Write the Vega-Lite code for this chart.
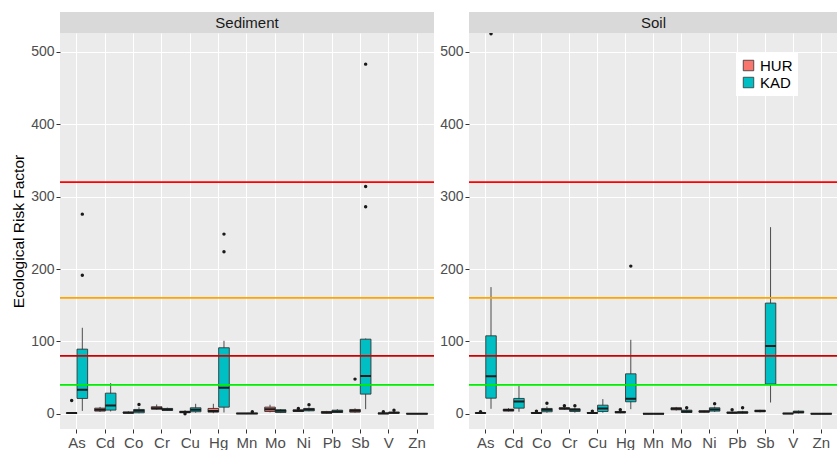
{
  "$schema": "https://vega.github.io/schema/vega-lite/v6.json",
  "padding": {"left": 11, "top": 12, "right": 0, "bottom": 0},
  "config": {
    "font": "Liberation Sans",
    "view": {"fill": "#EBEBEB", "stroke": null},
    "axis": {"domain": false, "labelFont": "Liberation Sans", "titleFont": "Liberation Sans"}
  },
  "datasets": {
    "box": [
      {"medium": "Sediment", "element": "As", "group": "HUR", "lo": 0.2, "q1": 0.6, "med": 1.0, "q3": 1.4, "hi": 2.0},
      {"medium": "Sediment", "element": "As", "group": "KAD", "lo": 4, "q1": 21.2, "med": 33.1, "q3": 89.3, "hi": 118.8},
      {"medium": "Sediment", "element": "Cd", "group": "HUR", "lo": 2.5, "q1": 3.7, "med": 5.5, "q3": 7.8, "hi": 9.5},
      {"medium": "Sediment", "element": "Cd", "group": "KAD", "lo": 3.2, "q1": 5.1, "med": 11.5, "q3": 28.5, "hi": 42.4},
      {"medium": "Sediment", "element": "Co", "group": "HUR", "lo": 0.5, "q1": 1.0, "med": 1.5, "q3": 2.5, "hi": 3.5},
      {"medium": "Sediment", "element": "Co", "group": "KAD", "lo": 0.8, "q1": 1.4, "med": 4.1, "q3": 6.0, "hi": 9.0},
      {"medium": "Sediment", "element": "Cr", "group": "HUR", "lo": 5.5, "q1": 6.4, "med": 7.8, "q3": 9.7, "hi": 12.9},
      {"medium": "Sediment", "element": "Cr", "group": "KAD", "lo": 4.0, "q1": 4.6, "med": 6.0, "q3": 7.4, "hi": 8.5},
      {"medium": "Sediment", "element": "Cu", "group": "HUR", "lo": 1.0, "q1": 1.5, "med": 2.5, "q3": 3.5, "hi": 5.0},
      {"medium": "Sediment", "element": "Cu", "group": "KAD", "lo": 1.5, "q1": 2.8, "med": 5.5, "q3": 8.3, "hi": 13.8},
      {"medium": "Sediment", "element": "Hg", "group": "HUR", "lo": 0.8, "q1": 2.3, "med": 3.7, "q3": 7.4, "hi": 13.8},
      {"medium": "Sediment", "element": "Hg", "group": "KAD", "lo": 1.8, "q1": 9.2, "med": 35.9, "q3": 91.2, "hi": 100.8},
      {"medium": "Sediment", "element": "Mn", "group": "HUR", "lo": 0, "q1": 0.2, "med": 0.4, "q3": 0.7, "hi": 1.0},
      {"medium": "Sediment", "element": "Mn", "group": "KAD", "lo": 0, "q1": 0.2, "med": 0.5, "q3": 0.8, "hi": 1.2},
      {"medium": "Sediment", "element": "Mo", "group": "HUR", "lo": 2, "q1": 3.2, "med": 6.4, "q3": 9.2, "hi": 12.5},
      {"medium": "Sediment", "element": "Mo", "group": "KAD", "lo": 1, "q1": 1.8, "med": 4.1, "q3": 5.5, "hi": 6.5},
      {"medium": "Sediment", "element": "Ni", "group": "HUR", "lo": 2.5, "q1": 3.2, "med": 4.1, "q3": 5.5, "hi": 6.0},
      {"medium": "Sediment", "element": "Ni", "group": "KAD", "lo": 3.5, "q1": 4.1, "med": 6.0, "q3": 7.4, "hi": 9.0},
      {"medium": "Sediment", "element": "Pb", "group": "HUR", "lo": 0.5, "q1": 0.9, "med": 1.8, "q3": 3.2, "hi": 4.0},
      {"medium": "Sediment", "element": "Pb", "group": "KAD", "lo": 1.2, "q1": 1.8, "med": 3.2, "q3": 5.0, "hi": 6.5},
      {"medium": "Sediment", "element": "Sb", "group": "HUR", "lo": 1.5, "q1": 2.3, "med": 4.1, "q3": 6.0, "hi": 7.5},
      {"medium": "Sediment", "element": "Sb", "group": "KAD", "lo": 6.4, "q1": 27.2, "med": 52.1, "q3": 103.1, "hi": 104},
      {"medium": "Sediment", "element": "V", "group": "HUR", "lo": 0, "q1": 0.2, "med": 0.5, "q3": 1.2, "hi": 1.8},
      {"medium": "Sediment", "element": "V", "group": "KAD", "lo": 0.3, "q1": 0.8, "med": 1.5, "q3": 2.2, "hi": 3.0},
      {"medium": "Sediment", "element": "Zn", "group": "HUR", "lo": 0, "q1": 0.1, "med": 0.2, "q3": 0.3, "hi": 0.5},
      {"medium": "Sediment", "element": "Zn", "group": "KAD", "lo": 0, "q1": 0.1, "med": 0.2, "q3": 0.3, "hi": 0.5},
      {"medium": "Soil", "element": "As", "group": "HUR", "lo": 0.3, "q1": 0.7, "med": 1.0, "q3": 1.5, "hi": 2.0},
      {"medium": "Soil", "element": "As", "group": "KAD", "lo": 6.9, "q1": 21.6, "med": 52.0, "q3": 107.7, "hi": 175},
      {"medium": "Soil", "element": "Cd", "group": "HUR", "lo": 3.2, "q1": 3.7, "med": 5.1, "q3": 6.4, "hi": 7.8},
      {"medium": "Soil", "element": "Cd", "group": "KAD", "lo": 2.8, "q1": 7.8, "med": 17.0, "q3": 21.2, "hi": 38.7},
      {"medium": "Soil", "element": "Co", "group": "HUR", "lo": 0.3, "q1": 0.8, "med": 1.2, "q3": 1.8, "hi": 2.5},
      {"medium": "Soil", "element": "Co", "group": "KAD", "lo": 1.5, "q1": 2.8, "med": 5.5, "q3": 7.4, "hi": 10},
      {"medium": "Soil", "element": "Cr", "group": "HUR", "lo": 5.5, "q1": 6.4, "med": 7.4, "q3": 8.3, "hi": 9.5},
      {"medium": "Soil", "element": "Cr", "group": "KAD", "lo": 1.5, "q1": 3.2, "med": 5.5, "q3": 6.9, "hi": 8.5},
      {"medium": "Soil", "element": "Cu", "group": "HUR", "lo": 0.3, "q1": 0.8, "med": 1.2, "q3": 1.8, "hi": 2.5},
      {"medium": "Soil", "element": "Cu", "group": "KAD", "lo": 1.5, "q1": 3.2, "med": 7.4, "q3": 11.9, "hi": 20.3},
      {"medium": "Soil", "element": "Hg", "group": "HUR", "lo": 0.8, "q1": 1.5, "med": 2.3, "q3": 3.2, "hi": 4.0},
      {"medium": "Soil", "element": "Hg", "group": "KAD", "lo": 6.4, "q1": 16.6, "med": 20.7, "q3": 55.2, "hi": 102.2},
      {"medium": "Soil", "element": "Mn", "group": "HUR", "lo": -0.5, "q1": -0.2, "med": 0, "q3": 0.3, "hi": 0.5},
      {"medium": "Soil", "element": "Mn", "group": "KAD", "lo": -0.5, "q1": -0.2, "med": 0, "q3": 0.3, "hi": 0.5},
      {"medium": "Soil", "element": "Mo", "group": "HUR", "lo": 4.5, "q1": 5.5, "med": 6.9, "q3": 8.3, "hi": 9.5},
      {"medium": "Soil", "element": "Mo", "group": "KAD", "lo": 1.0, "q1": 1.8, "med": 3.2, "q3": 5.0, "hi": 6.0},
      {"medium": "Soil", "element": "Ni", "group": "HUR", "lo": 1.8, "q1": 2.3, "med": 3.2, "q3": 4.1, "hi": 4.5},
      {"medium": "Soil", "element": "Ni", "group": "KAD", "lo": 2.5, "q1": 3.7, "med": 6.0, "q3": 8.3, "hi": 10},
      {"medium": "Soil", "element": "Pb", "group": "HUR", "lo": 0.5, "q1": 0.9, "med": 1.5, "q3": 2.3, "hi": 3.0},
      {"medium": "Soil", "element": "Pb", "group": "KAD", "lo": 0.5, "q1": 0.9, "med": 1.8, "q3": 2.8, "hi": 4.0},
      {"medium": "Soil", "element": "Sb", "group": "HUR", "lo": 2.0, "q1": 2.8, "med": 3.7, "q3": 5.0, "hi": 5.5},
      {"medium": "Soil", "element": "Sb", "group": "KAD", "lo": 15.6, "q1": 41, "med": 93.5, "q3": 152.9, "hi": 257.8},
      {"medium": "Soil", "element": "V", "group": "HUR", "lo": -0.3, "q1": 0, "med": 0.3, "q3": 0.6, "hi": 1.0},
      {"medium": "Soil", "element": "V", "group": "KAD", "lo": 0.5, "q1": 1.4, "med": 2.3, "q3": 3.7, "hi": 4.5},
      {"medium": "Soil", "element": "Zn", "group": "HUR", "lo": -0.3, "q1": -0.1, "med": 0, "q3": 0.2, "hi": 0.4},
      {"medium": "Soil", "element": "Zn", "group": "KAD", "lo": -0.3, "q1": -0.1, "med": 0, "q3": 0.2, "hi": 0.4}
    ],
    "out": [
      {"medium": "Sediment", "element": "As", "group": "HUR", "v": 18.4},
      {"medium": "Sediment", "element": "As", "group": "KAD", "v": 191.5},
      {"medium": "Sediment", "element": "As", "group": "KAD", "v": 275.8},
      {"medium": "Sediment", "element": "Co", "group": "KAD", "v": 12.9},
      {"medium": "Sediment", "element": "Cu", "group": "HUR", "v": 0},
      {"medium": "Sediment", "element": "Hg", "group": "KAD", "v": 223.8},
      {"medium": "Sediment", "element": "Hg", "group": "KAD", "v": 248.2},
      {"medium": "Sediment", "element": "Mn", "group": "KAD", "v": 3},
      {"medium": "Sediment", "element": "Ni", "group": "HUR", "v": 7.4},
      {"medium": "Sediment", "element": "Ni", "group": "KAD", "v": 12.5},
      {"medium": "Sediment", "element": "Sb", "group": "HUR", "v": 47.9},
      {"medium": "Sediment", "element": "Sb", "group": "KAD", "v": 285.9},
      {"medium": "Sediment", "element": "Sb", "group": "KAD", "v": 314},
      {"medium": "Sediment", "element": "Sb", "group": "KAD", "v": 483},
      {"medium": "Sediment", "element": "V", "group": "HUR", "v": 2.8},
      {"medium": "Sediment", "element": "V", "group": "KAD", "v": 5},
      {"medium": "Soil", "element": "As", "group": "HUR", "v": 3},
      {"medium": "Soil", "element": "As", "group": "KAD", "v": 525},
      {"medium": "Soil", "element": "Co", "group": "HUR", "v": 3.7},
      {"medium": "Soil", "element": "Co", "group": "KAD", "v": 14.7},
      {"medium": "Soil", "element": "Cr", "group": "HUR", "v": 11},
      {"medium": "Soil", "element": "Cr", "group": "KAD", "v": 11.1},
      {"medium": "Soil", "element": "Cu", "group": "HUR", "v": 3.7},
      {"medium": "Soil", "element": "Hg", "group": "HUR", "v": 5.5},
      {"medium": "Soil", "element": "Hg", "group": "KAD", "v": 204},
      {"medium": "Soil", "element": "Mo", "group": "KAD", "v": 8.3},
      {"medium": "Soil", "element": "Ni", "group": "KAD", "v": 13.8},
      {"medium": "Soil", "element": "Pb", "group": "HUR", "v": 5.5},
      {"medium": "Soil", "element": "Pb", "group": "KAD", "v": 8.3}
    ],
    "thr": [
      {"level": "low", "v": 40},
      {"level": "moderate", "v": 80},
      {"level": "considerable", "v": 160},
      {"level": "high", "v": 320}
    ]
  },
  "columns": 2,
  "spacing": {"row": 0, "column": 35},
  "bounds": "flush",
  "resolve": {
    "scale": {"x": "independent", "y": "independent", "fill": "independent", "stroke": "independent", "xOffset": "independent"},
    "legend": {"fill": "independent", "stroke": "independent"}
  },
  "concat": [
    {
      "width": 374, "height": 21,
      "view": {"fill": "#D9D9D9", "stroke": null},
      "data": {"values": [{"panel": "Sediment"}]},
      "mark": {"type": "text", "fontSize": 15, "color": "#1a1a1a", "font": "Liberation Sans"},
      "encoding": {"text": {"field": "panel"}}
    },
    {
      "width": 369, "height": 21,
      "view": {"fill": "#D9D9D9", "stroke": null},
      "data": {"values": [{"panel": "Soil"}]},
      "mark": {"type": "text", "fontSize": 15, "color": "#1a1a1a", "font": "Liberation Sans"},
      "encoding": {"text": {"field": "panel"}}
    },
    {
      "width": 374, "height": 396,
      "encoding": {
        "x": {"field": "element", "type": "nominal", "sort": ["As","Cd","Co","Cr","Cu","Hg","Mn","Mo","Ni","Pb","Sb","V","Zn"],
          "scale": {"domain": ["As","Cd","Co","Cr","Cu","Hg","Mn","Mo","Ni","Pb","Sb","V","Zn"], "paddingInner": 0, "paddingOuter": 0.1},
          "axis": {"title": null, "bandPosition": 0.5, "grid": true, "gridColor": "white", "gridWidth": 1, "domain": false, "ticks": true, "tickColor": "#333333", "tickSize": 4, "labelAngle": 0, "labelFontSize": 15, "labelColor": "#4D4D4D", "labelPadding": 2}},
        "xOffset": {"field": "group", "type": "nominal", "scale": {"domain": ["HUR","KAD"], "paddingInner": 0, "paddingOuter": 0.333}}
      },
      "layer": [
        {
          "data": {"name": "box"},
          "transform": [{"filter": "datum.medium === 'Sediment'"}],
          "mark": {"type": "rule", "color": "#4D4D4D", "strokeWidth": 1},
          "encoding": {
            "y": {"field": "lo", "type": "quantitative", "title": "Ecological Risk Factor",
              "scale": {"domain": [-21, 526], "nice": false, "zero": false},
              "axis": {"values": [0,50,100,150,200,250,300,350,400,450,500],
                "labelExpr": "datum.value % 100 === 0 ? datum.label : ''",
                "grid": true, "gridColor": "white",
                "gridWidth": {"condition": {"test": "datum.value % 100 === 0", "value": 1.1}, "value": 0.5},
                "tickOpacity": {"condition": {"test": "datum.value % 100 === 0", "value": 1}, "value": 0},
                "tickColor": "#333333", "tickSize": 4, "domain": false,
                "labelFontSize": 14, "labelColor": "#4D4D4D", "labelPadding": 2,
                "titleFontSize": 15.5, "titleFontWeight": "normal", "titleColor": "black", "titlePadding": 4}},
            "y2": {"field": "hi"}
          }
        },
        {
          "data": {"name": "box"},
          "transform": [{"filter": "datum.medium === 'Sediment'"}],
          "mark": {"type": "bar", "stroke": "#333333", "strokeWidth": 0.9},
          "encoding": {
            "y": {"field": "q1", "type": "quantitative", "title": "Ecological Risk Factor"},
            "y2": {"field": "q3"},
            "fill": {"field": "group", "type": "nominal", "scale": {"domain": ["HUR","KAD"], "range": ["#F8766D","#00BFC4"]}, "legend": null}
          }
        },
        {
          "data": {"name": "box"},
          "transform": [{"filter": "datum.medium === 'Sediment'"}],
          "mark": {"type": "bar", "fillOpacity": 0, "stroke": "#1A1A1A", "strokeWidth": 2},
          "encoding": {
            "y": {"field": "med", "type": "quantitative", "title": "Ecological Risk Factor"},
            "y2": {"field": "med"}
          }
        },
        {
          "data": {"name": "out"},
          "transform": [{"filter": "datum.medium === 'Sediment'"}],
          "mark": {"type": "circle", "color": "#1A1A1A", "size": 12, "opacity": 1, "clip": true},
          "encoding": {
            "y": {"field": "v", "type": "quantitative", "title": "Ecological Risk Factor"}
          }
        },
        {
          "data": {"name": "thr"},
          "mark": {"type": "rule", "strokeWidth": 1.8},
          "encoding": {
            "x": null, "xOffset": null,
            "y": {"field": "v", "type": "quantitative", "title": "Ecological Risk Factor"},
            "stroke": {"field": "level", "type": "nominal", "scale": {"domain": ["low","moderate","considerable","high"], "range": ["#00EE00","#CD0000","#FFA500","#FF0000"]}, "legend": null}
          }
        }
      ]
    },
    {
      "width": 369, "height": 396,
      "encoding": {
        "x": {"field": "element", "type": "nominal", "sort": ["As","Cd","Co","Cr","Cu","Hg","Mn","Mo","Ni","Pb","Sb","V","Zn"],
          "scale": {"domain": ["As","Cd","Co","Cr","Cu","Hg","Mn","Mo","Ni","Pb","Sb","V","Zn"], "paddingInner": 0, "paddingOuter": 0.1},
          "axis": {"title": null, "bandPosition": 0.5, "grid": true, "gridColor": "white", "gridWidth": 1, "domain": false, "ticks": true, "tickColor": "#333333", "tickSize": 4, "labelAngle": 0, "labelFontSize": 15, "labelColor": "#4D4D4D", "labelPadding": 2}},
        "xOffset": {"field": "group", "type": "nominal", "scale": {"domain": ["HUR","KAD"], "paddingInner": 0, "paddingOuter": 0.333}}
      },
      "layer": [
        {
          "data": {"name": "box"},
          "transform": [{"filter": "datum.medium === 'Soil'"}],
          "mark": {"type": "rule", "color": "#4D4D4D", "strokeWidth": 1},
          "encoding": {
            "y": {"field": "lo", "type": "quantitative", "title": null,
              "scale": {"domain": [-21, 526], "nice": false, "zero": false},
              "axis": {"values": [0,50,100,150,200,250,300,350,400,450,500],
                "labelExpr": "datum.value % 100 === 0 ? datum.label : ''",
                "grid": true, "gridColor": "white",
                "gridWidth": {"condition": {"test": "datum.value % 100 === 0", "value": 1.1}, "value": 0.5},
                "tickOpacity": {"condition": {"test": "datum.value % 100 === 0", "value": 1}, "value": 0},
                "tickColor": "#333333", "tickSize": 4, "domain": false,
                "labelFontSize": 14, "labelColor": "#4D4D4D", "labelPadding": 2}},
            "y2": {"field": "hi"}
          }
        },
        {
          "data": {"name": "box"},
          "transform": [{"filter": "datum.medium === 'Soil'"}],
          "mark": {"type": "bar", "stroke": "#333333", "strokeWidth": 0.9},
          "encoding": {
            "y": {"field": "q1", "type": "quantitative", "title": null},
            "y2": {"field": "q3"},
            "fill": {"field": "group", "type": "nominal", "scale": {"domain": ["HUR","KAD"], "range": ["#F8766D","#00BFC4"]},
              "legend": {"orient": "none", "legendX": 267, "legendY": 20, "title": null, "symbolType": "square", "symbolSize": 110,
                "symbolStrokeColor": "#333333", "symbolStrokeWidth": 0.8, "labelFontSize": 15, "labelColor": "black", "labelFont": "Liberation Sans",
                "fillColor": "white", "padding": 5, "rowPadding": 1, "labelOffset": 4}}
          }
        },
        {
          "data": {"name": "box"},
          "transform": [{"filter": "datum.medium === 'Soil'"}],
          "mark": {"type": "bar", "fillOpacity": 0, "stroke": "#1A1A1A", "strokeWidth": 2},
          "encoding": {
            "y": {"field": "med", "type": "quantitative", "title": null},
            "y2": {"field": "med"}
          }
        },
        {
          "data": {"name": "out"},
          "transform": [{"filter": "datum.medium === 'Soil'"}],
          "mark": {"type": "circle", "color": "#1A1A1A", "size": 12, "opacity": 1, "clip": true},
          "encoding": {
            "y": {"field": "v", "type": "quantitative", "title": null}
          }
        },
        {
          "data": {"name": "thr"},
          "mark": {"type": "rule", "strokeWidth": 1.8},
          "encoding": {
            "x": null, "xOffset": null,
            "y": {"field": "v", "type": "quantitative", "title": null},
            "stroke": {"field": "level", "type": "nominal", "scale": {"domain": ["low","moderate","considerable","high"], "range": ["#00EE00","#CD0000","#FFA500","#FF0000"]}, "legend": null}
          }
        }
      ]
    }
  ]
}
